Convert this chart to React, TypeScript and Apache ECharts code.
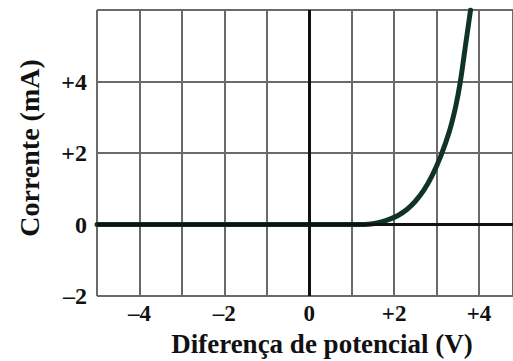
import React, { useEffect, useRef } from "react";
import * as echarts from "echarts";

const voltage = [-5, -3, -1, 0, 1, 1.3, 1.5, 1.7, 1.9, 2.1, 2.3, 2.5, 2.7, 2.9, 3.1, 3.3, 3.45, 3.56, 3.68, 3.8];
const current = [0, 0, 0, 0, 0, 0, 0.02, 0.07, 0.15, 0.26, 0.42, 0.65, 0.96, 1.38, 1.92, 2.6, 3.3, 4.0, 5.0, 6.0];
const xTickLabels = ["–4", "–2", "0", "+2", "+4"];
const yTickLabels = ["–2", "0", "+2", "+4"];
const xName = "Diferença de potencial (V)";
const yName = "Corrente (mA)";

const FONT = "'Liberation Serif', 'DejaVu Serif', serif";

function fmt(v: number): string {
  if (v > 0) return "+" + v;
  if (v < 0) return "–" + Math.abs(v);
  return "0";
}

export default function App() {
  const ref = useRef<HTMLDivElement>(null);
  useEffect(() => {
    document.body.style.margin = "0";
    const chart = echarts.init(ref.current!, undefined, { renderer: "svg" });
    const data = voltage.map((v, i) => [v, current[i]]);
    chart.setOption({
      animation: false,
      backgroundColor: "#ffffff",
      grid: { left: 97, top: 10, right: 0, bottom: 65 },
      xAxis: {
        type: "value",
        min: -5,
        max: 4.8,
        interval: 1,
        axisLine: { show: false, onZero: false },
        axisTick: { show: false },
        splitLine: { show: true, lineStyle: { color: "#6a6a6a", width: 2 } },
        axisLabel: {
          margin: 5,
          color: "#111",
          fontFamily: FONT,
          fontWeight: "bold",
          fontSize: 23,
          lineHeight: 24,
          showMaxLabel: false,
          formatter: (v: number) => {
            const s = fmt(v);
            return xTickLabels.indexOf(s) >= 0 ? s : "";
          },
        },
      },
      yAxis: {
        type: "value",
        min: -2,
        max: 6,
        interval: 2,
        axisLine: { show: false, onZero: false },
        axisTick: { show: false },
        splitLine: { show: true, lineStyle: { color: "#6a6a6a", width: 2 } },
        axisLabel: {
          margin: 10,
          color: "#111",
          fontFamily: FONT,
          fontWeight: "bold",
          fontSize: 24,
          formatter: (v: number) => {
            const s = fmt(v);
            return yTickLabels.indexOf(s) >= 0 ? s : "";
          },
        },
      },
      graphic: [
        {
          type: "text",
          x: 322,
          y: 344,
          style: {
            text: xName,
            fill: "#111",
            font: `bold 27px ${FONT}`,
            align: "center",
            verticalAlign: "middle",
          },
        },
        {
          type: "text",
          x: 29,
          y: 148,
          rotation: Math.PI / 2,
          style: {
            text: yName,
            fill: "#111",
            font: `bold 28px ${FONT}`,
            align: "center",
            verticalAlign: "middle",
          },
        },
      ],
      series: [
        {
          type: "line",
          data: [],
          z: 1,
          silent: true,
          markLine: {
            silent: true,
            symbol: "none",
            label: { show: false },
            lineStyle: { color: "#111", width: 3, type: "solid" },
            data: [{ xAxis: 0 }, { yAxis: 0 }],
          },
        },
        {
          type: "line",
          data,
          z: 3,
          smooth: 0.3,
          showSymbol: false,
          lineStyle: { color: "#0f3326", width: 5, cap: "round", join: "round" },
          clip: true,
        },
      ],
    });
    return () => chart.dispose();
  }, []);
  return (
    <div
      ref={ref}
      style={{ position: "fixed", left: 0, top: 0, width: 513, height: 361 }}
    />
  );
}
